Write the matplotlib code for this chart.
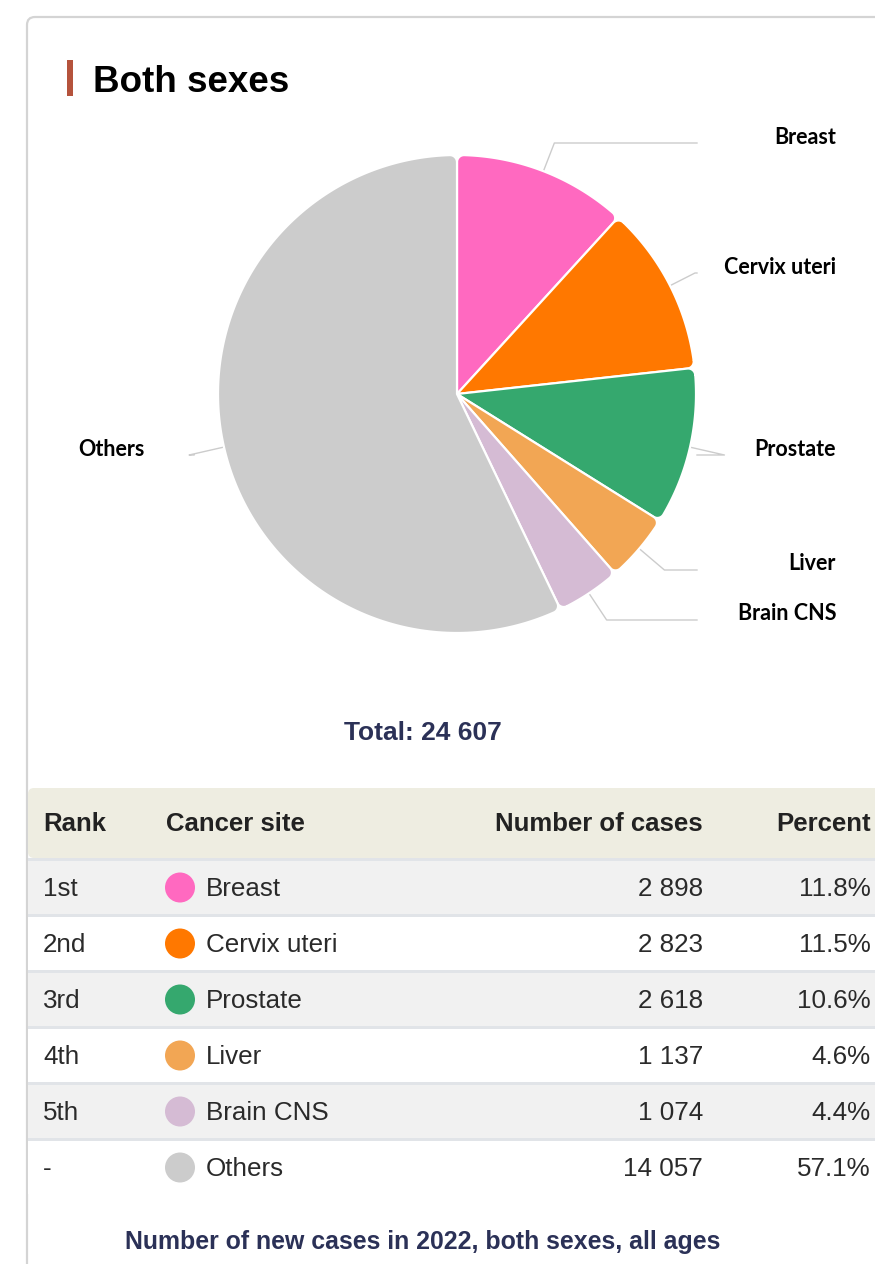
import matplotlib.pyplot as plt
from matplotlib.patches import FancyBboxPatch, Rectangle, Circle, Polygon
import numpy as np

# data
sites = ["Breast", "Cervix uteri", "Prostate", "Liver", "Brain CNS", "Others"]
ranks = ["1st", "2nd", "3rd", "4th", "5th", "-"]
cases = [2898, 2823, 2618, 1137, 1074, 14057]
percents = [11.8, 11.5, 10.6, 4.6, 4.4, 57.1]
colors = ["#ff69c0", "#ff7800", "#35a86e", "#f2a654", "#d5bbd4", "#cccccc"]
total = 24607

# layout (pixels)
W, H = 875, 1264
cx, cy, R = 457, 394, 239
rho = 7  # corner rounding of the slices
label_y = [136, 266, 448, 563, 613, 448]

def fmt(n):
    return f"{n:,}".replace(",", " ")

def rounded_wedge(t1, t2):
    # wedge outline with rounded outer corners, angles in degrees
    t1, t2 = np.deg2rad(t1), np.deg2rad(t2)
    beta = np.arcsin(rho / (R - rho))
    L = np.sqrt((R - rho) ** 2 - rho ** 2)
    pts = [(cx, cy)]
    for side, (ta, tc) in enumerate([(t1, t1 + beta), (t2, t2 - beta)]):
        c = np.array([cx + (R - rho) * np.cos(tc), cy + (R - rho) * np.sin(tc)])
        tp = np.array([cx + L * np.cos(ta), cy + L * np.sin(ta)])
        a0 = np.arctan2(*(tp - c)[::-1])
        da = (tc - a0 + np.pi) % (2 * np.pi) - np.pi
        arc = [c + rho * np.array([np.cos(a), np.sin(a)]) for a in a0 + da * np.linspace(0, 1, 12)]
        if side == 0:
            pts += arc
            main = np.linspace(t1 + beta, t2 - beta, 200)
            pts += [(cx + R * np.cos(a), cy + R * np.sin(a)) for a in main]
        else:
            pts += arc[::-1]
    return np.array(pts)

fig = plt.figure(figsize=(W / 100, H / 100), dpi=100)
ax = fig.add_axes([0, 0, 1, 1])

# card border
ax.add_patch(FancyBboxPatch((27, 17), 900, 1300, boxstyle="round,pad=0,rounding_size=8",
                            facecolor="white", edgecolor="#d4d4d4", linewidth=1.6, zorder=0))

# title
ax.add_patch(Rectangle((67, 60), 5.5, 36, facecolor="#b5533c", edgecolor="none"))
ax.text(93, 82, "Both sexes", fontsize=26.5, fontweight="bold", family="Liberation Sans",
        va="center", ha="left", color="black")

# pie, clockwise from top (y axis is inverted)
wedges, _ = ax.pie(cases, colors=colors, startangle=-90, counterclock=True,
                   center=(cx, cy), radius=R)
for w, c in zip(wedges, colors):
    w.set_visible(False)
    ax.add_patch(Polygon(rounded_wedge(w.theta1, w.theta2), closed=True, facecolor=c,
                         edgecolor="white", linewidth=1.6, joinstyle="round", zorder=2))

# leader lines and labels
for w, name, ly in zip(wedges, sites, label_y):
    mid = np.deg2rad((w.theta1 + w.theta2) / 2)
    dx, dy = np.cos(mid), np.sin(mid)
    ex, ey = cx + R * dx, cy + R * dy
    t = (ly + 7 - ey) / dy
    bx, by = ex + t * dx, ey + t * dy
    endx = 697 if dx > 0 else 194
    ax.plot([ex, bx, endx], [ey, by, by], color="#cccccc", lw=1, zorder=0.5)
    tx = 836 if dx > 0 else 145
    ax.text(tx, ly + 1, name, ha="right", va="center", fontsize=15.5, fontweight="bold",
            family="Lato", color="black")

ax.text(423, 733, f"Total: {fmt(total)}", ha="center", va="center", fontsize=19,
        fontweight="bold", family="Liberation Sans", color="#2b3157")

# table header
ax.add_patch(FancyBboxPatch((28, 788), 900, 70, boxstyle="round,pad=0,rounding_size=6",
                            facecolor="#eeede1", edgecolor="none"))
hy = 824
hkw = dict(fontsize=18.5, fontweight="bold", family="Liberation Sans", va="center", color="#222222")
ax.text(43, hy, "Rank", ha="left", **hkw)
ax.text(166, hy, "Cancer site", ha="left", **hkw)
ax.text(703, hy, "Number of cases", ha="right", **hkw)
ax.text(871, hy, "Percent", ha="right", **hkw)

# table rows
row_top = 858
row_h = 56
for i, (rk, site, n, p, c) in enumerate(zip(ranks, sites, cases, percents, colors)):
    top = row_top + i * row_h
    ax.add_patch(Rectangle((28, top), 900, 3, facecolor="#e1e4e8", edgecolor="none"))
    bg = "#f1f1f1" if i % 2 == 0 else "white"
    ax.add_patch(Rectangle((28, top + 3), 900, row_h - 3, facecolor=bg, edgecolor="none"))
    y = top + 3 + (row_h - 3) / 2
    rkw = dict(fontsize=18.7, family="Liberation Sans", va="center", color="#2a2a2a")
    ax.add_patch(Circle((180, y), 15, facecolor=c, edgecolor="none"))
    ax.text(43, y + 2, rk, ha="left", **rkw)
    ax.text(206, y + 2, site, ha="left", **rkw)
    ax.text(703, y + 2, fmt(n), ha="right", **rkw)
    ax.text(871, y + 2, f"{p}%", ha="right", **rkw)

ax.text(423, 1242, "Number of new cases in 2022, both sexes, all ages", ha="center", va="center",
        fontsize=17.9, fontweight="bold", family="Liberation Sans", color="#2b3157")

ax.set_xlim(0, W)
ax.set_ylim(H, 0)
ax.set_aspect("auto")
ax.axis("off")

fig.savefig("out.png", dpi=100, facecolor="white")
